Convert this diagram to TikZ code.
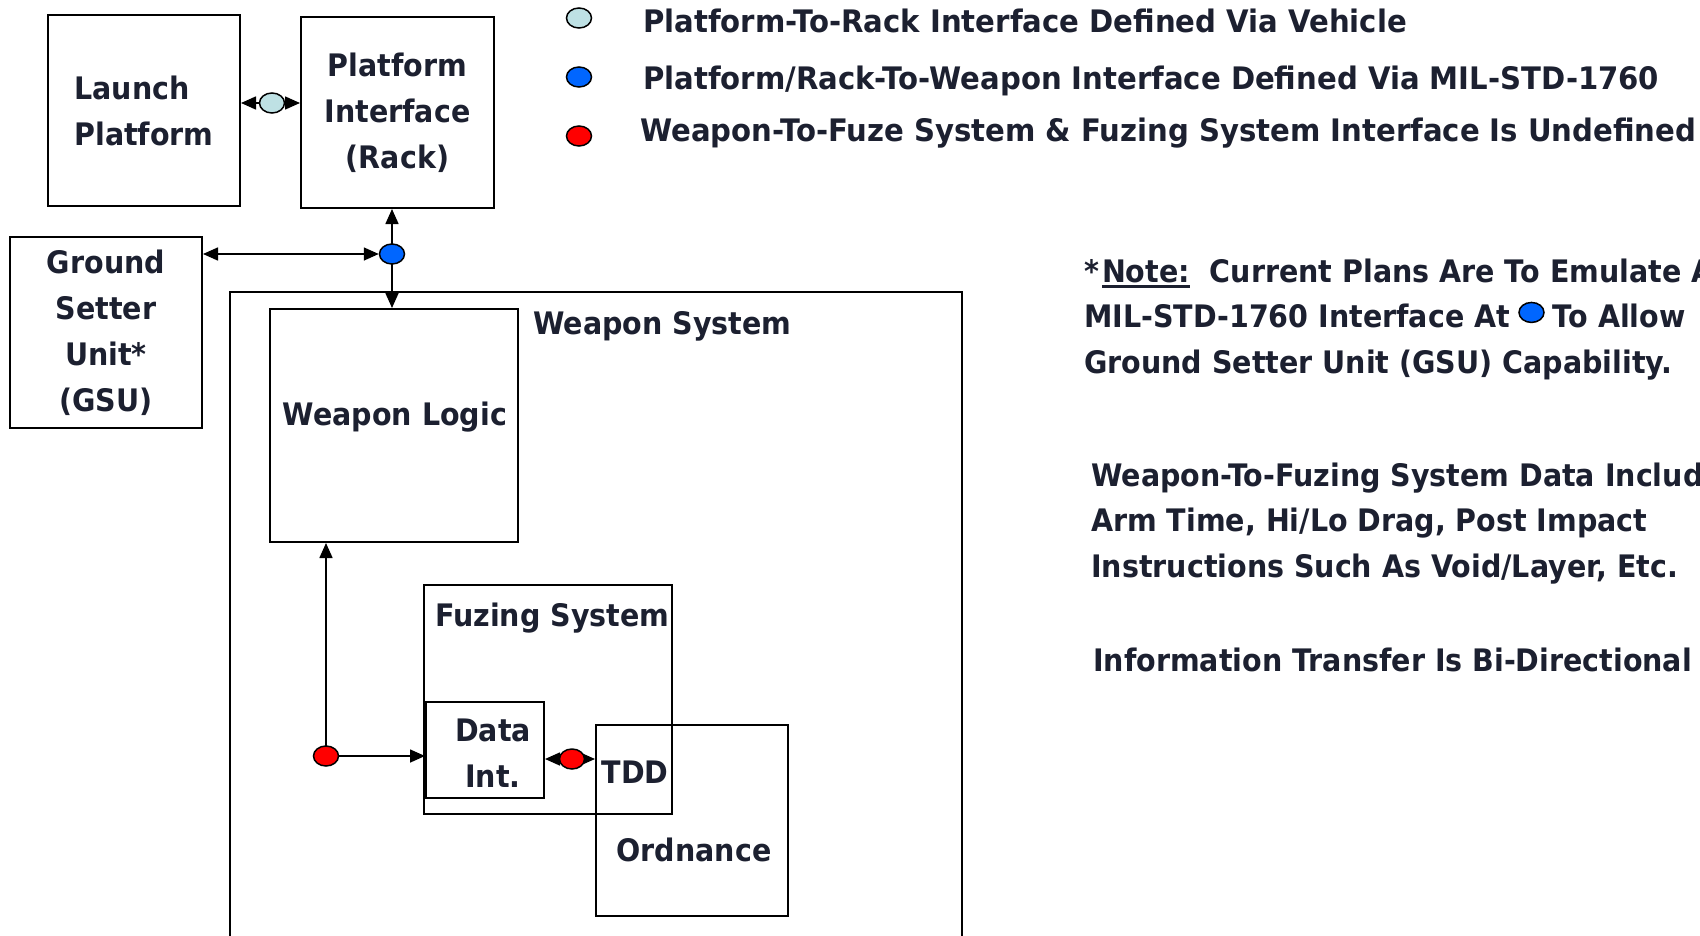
\documentclass[tikz,border=0pt]{standalone}
\usepackage{fontspec}
\setmainfont{DejaVu Sans}[FakeStretch=0.92]
\newfontfamily\legfont{DejaVu Sans}[FakeStretch=0.94]
\usetikzlibrary{arrows.meta,shapes.geometric}
\definecolor{txtc}{RGB}{28,32,48}
\definecolor{tealc}{RGB}{190,225,228}
\definecolor{bluec}{RGB}{0,102,255}
\definecolor{redc}{RGB}{255,0,0}
\newcommand\thickul[1]{\setbox0\hbox{#1}\rlap{\rule[-6pt]{\wd0}{3.5pt}}\box0}
\pgfdeclarelayer{bg}
\pgfsetlayers{bg,main}
\tikzset{
  box/.style={draw, line width=2pt, inner sep=0pt, anchor=north west, text=txtc, align=center,
              font=\fontsize{31}{46}\selectfont\bfseries},
  lbl/.style={text=txtc, inner sep=0pt, align=center, font=\fontsize{31}{46}\selectfont\bfseries},
  leg/.style={lbl, font=\fontsize{31}{46}\selectfont\legfont\bfseries},
  dot/.style={ellipse, draw, line width=1.5pt, minimum width=25pt, minimum height=20pt, inner sep=0pt},
  conn/.style={line width=1.6pt, -{Triangle[length=15pt,width=13pt]}},
  biconn/.style={line width=1.6pt, {Triangle[length=15pt,width=13pt]}-{Triangle[length=15pt,width=13pt]}}
}
\begin{document}
\begin{tikzpicture}[x=1pt,y=-1pt]
\useasboundingbox (0,0) rectangle (1700,935);
\clip (0,0) rectangle (1700,935);
\begin{pgfonlayer}{bg}
\fill[white] (0,0) rectangle (1700,935);
\end{pgfonlayer}

% boxes
\node[box, minimum width=192pt, minimum height=191pt, align=left] (lp) at (47,14) {Launch\\Platform};
\node[box, minimum width=193pt, minimum height=191pt] (pi) at (300,16) {Platform\\Interface\\(Rack)};
\node[box, minimum width=192pt, minimum height=191pt] (gsu) at (9,236) {Ground\\Setter\\Unit*\\(GSU)};
\node[box, minimum width=732pt, minimum height=680pt] (ws) at (229,291) {};
\node[box, minimum width=248pt, minimum height=233pt] (wl) at (269,308) {};
\node[box, minimum width=248pt, minimum height=229pt] (fs) at (423,584) {};
\node[box, minimum width=118pt, minimum height=96pt] (di) at (425,701) {};
\node[box, minimum width=192pt, minimum height=191pt] (ord) at (595,724) {};

% box labels
\node[lbl, anchor=base west] (wstext) at (533,334) {Weapon System};
\node[lbl] (wltext) at (395,417) {Weapon Logic};
\node[lbl, anchor=base west] (fstext) at (435,626) {Fuzing System};
\node[lbl] (ditext) at (493,753) {Data\\Int.};
\node[lbl, anchor=base] (tddtext) at (635,783) {TDD};
\node[lbl, anchor=base] (ordtext) at (694,861) {Ordnance};

% interface dots
\node[dot, fill=tealc] (tdot) at (272,103) {};
\node[dot, fill=bluec] (bdot) at (392,254) {};
\node[dot, fill=redc] (r1) at (326,756) {};
\node[dot, fill=redc] (r2) at (572,759) {};

% connectors (behind the dots)
\begin{pgfonlayer}{bg}
\draw[conn] (tdot.center) -- (tdot -| lp.east);
\draw[conn] (tdot.center) -- (tdot -| pi.west);
\draw[conn] (bdot.center) -- (bdot |- pi.south);
\draw[conn] (bdot.center) -- (bdot |- wl.north);
\draw[biconn] (gsu.east |- bdot) -- (bdot);
\draw[conn] (r1.center) -- (r1 |- wl.south);
\draw[conn] (r1.center) -- (r1 -| di.west);
\draw[conn] (r2.center) -- (r2 -| di.east);
\draw[conn] (r2.center) -- (r2 -| ord.west);
\end{pgfonlayer}

% legend
\node[dot, fill=tealc] (lg1) at (579,18) {};
\node[dot, fill=bluec] (lg2) at (579,77) {};
\node[dot, fill=redc] (lg3) at (579,136) {};
\node[leg, anchor=base west] (lt1) at (643,32) {Platform-To-Rack Interface Defined Via Vehicle};
\node[leg, anchor=base west] (lt2) at (643,89) {Platform/Rack-To-Weapon Interface Defined Via MIL-STD-1760};
\node[leg, anchor=base west] (lt3) at (640,141) {Weapon-To-Fuze System \& Fuzing System Interface Is Undefined};

% notes
\node[lbl, anchor=base west] (n1) at (1084,282) {*\kern3pt\thickul{Note:}\ \ Current Plans Are To Emulate A};
\node[lbl, anchor=base west] (n2) at (1084,327) {MIL-STD-1760 Interface At};
\node[dot, fill=bluec, anchor=west] (ndot) at ([xshift=8pt,yshift=3pt]n2.east) {};
\coordinate (n2bx) at ([xshift=8pt]ndot.east);
\node[lbl, anchor=base west] (n2b) at (n2bx |- n2.base) {To Allow};
\node[lbl, anchor=base west] (n3) at (1084,373) {Ground Setter Unit (GSU) Capability.};
\node[lbl, anchor=base west] (p1) at (1091,486) {Weapon-To-Fuzing System Data Includes};
\node[lbl, anchor=base west] (p2) at (1091,531) {Arm Time, Hi/Lo Drag, Post Impact};
\node[lbl, anchor=base west] (p3) at (1091,577) {Instructions Such As Void/Layer, Etc.};
\node[lbl, anchor=base west] (q1) at (1093,671) {Information Transfer Is Bi-Directional};
\end{tikzpicture}
\end{document}
